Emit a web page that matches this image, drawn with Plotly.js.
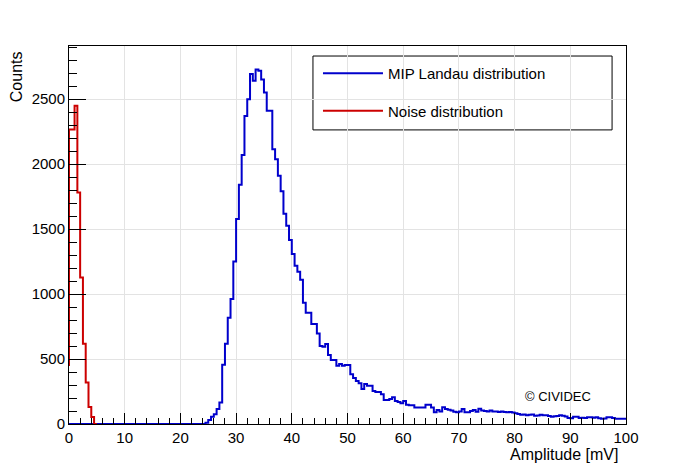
<!DOCTYPE html>
<html>
<head>
<meta charset="utf-8">
<script src="https://cdn.plot.ly/plotly-3.0.1.min.js"></script>
<style>
  html, body { margin: 0; padding: 0; background: #fff; }
  #chart { width: 696px; height: 472px; }
</style>
</head>
<body>
<div id="chart"></div>
<script>
// histogram binning (mV)
var binWidth = 0.5;
var blueStart = 0;
var noiseStart = -0.5;

// MIP Landau distribution, counts per 0.5 mV bin, 0 .. 100 mV
var blueCounts = [
    0, 0, 0, 0, 0, 0, 0, 0, 0, 0,                               // 0 - 4.5
    0, 0, 0, 0, 0, 0, 0, 0, 0, 0,                               // 5 - 9.5
    0, 0, 0, 0, 0, 0, 0, 0, 0, 0,                               // 10 - 14.5
    0, 0, 0, 0, 0, 0, 0, 0, 0, 0,                               // 15 - 19.5
    0, 0, 0, 0, 0, 0, 0, 0, 0, 10,                              // 20 - 24.5
    30, 55, 75, 115, 165, 456, 618, 818, 962, 1250,             // 25 - 29.5
    1578, 1840, 2069, 2370, 2498, 2692, 2641, 2728, 2718, 2651, // 30 - 34.5
    2551, 2410, 2410, 2113, 2036, 1910, 1790, 1618, 1525, 1415, // 35 - 39.5
    1308, 1218, 1172, 1110, 933, 856, 856, 769, 769, 697,       // 40 - 44.5
    600, 595, 615, 531, 492, 492, 449, 462, 449, 454,           // 45 - 49.5
    454, 382, 354, 331, 313, 269, 308, 295, 295, 254,           // 50 - 54.5
    246, 246, 228, 185, 185, 192, 205, 177, 169, 159,           // 55 - 59.5
    177, 149, 144, 144, 126, 126, 126, 126, 149, 149,           // 60 - 64.5
    126, 90, 108, 97, 128, 115, 110, 103, 95, 90,               // 65 - 69.5
    97, 115, 90, 90, 100, 108, 95, 118, 103, 100,               // 70 - 74.5
    97, 103, 97, 97, 92, 97, 92, 90, 92, 88,                    // 75 - 79.5
    82, 77, 72, 74, 67, 72, 74, 64, 66, 72,                     // 80 - 84.5
    67, 67, 62, 56, 60, 62, 67, 64, 58, 47,                     // 85 - 89.5
    44, 56, 56, 46, 48, 46, 52, 51, 49, 51,                     // 90 - 94.5
    44, 41, 43, 51, 51, 46, 41, 41, 41, 40                      // 95 - 99.5
];

// Noise distribution, counts per 0.5 mV bin, -0.5 .. 5 mV
var noiseCounts = [454, 2265, 2265, 2448, 1780, 1128, 618, 319, 131, 53, 0];

var legendNames = ['MIP Landau distribution', 'Noise distribution'];
var lineColors = ['#0000cc', '#cc0000'];

// step outline like ROOT's hist drawing
function histLine(start, counts) {
    var xs = [], ys = [];
    for (var i = 0; i < counts.length; i++) {
        xs.push(start + i * binWidth);
        ys.push(counts[i]);
    }
    xs.push(start + counts.length * binWidth);
    ys.push(counts[counts.length - 1]);
    return [xs, ys];
}

var blue = histLine(blueStart, blueCounts);
var red = histLine(noiseStart, noiseCounts);

var traceBlue = {
    name: legendNames[0],
    legendgroup: 'a',
    type: 'scatter',
    mode: 'lines',
    x: blue[0],
    y: blue[1],
    line: { color: lineColors[0], width: 2, shape: 'hv' },
    hoverinfo: 'skip'
};

var traceRed = {
    name: legendNames[1],
    legendgroup: 'b',
    type: 'scatter',
    mode: 'lines',
    x: red[0],
    y: red[1],
    line: { color: lineColors[1], width: 2, shape: 'hv' },
    hoverinfo: 'skip'
};

var font = 'Liberation Sans, Arial, Helvetica, sans-serif';

var layout = {
    width: 696,
    height: 472,
    margin: { l: 69, r: 70, t: 46, b: 48 },
    paper_bgcolor: '#ffffff',
    plot_bgcolor: '#ffffff',
    font: { family: font, size: 15, color: '#000' },
    showlegend: true,
    legend: {
        x: 0.447, y: 0.971,
        xanchor: 'left', yanchor: 'top',
        bgcolor: 'rgba(0,0,0,0)',
        borderwidth: 0,
        font: { family: font, size: 15, color: '#000' },
        traceorder: 'grouped',
        tracegroupgap: 15,
        itemwidth: 60
    },
    xaxis: {
        range: [0, 100],
        tick0: 0, dtick: 10,
        ticks: 'inside', ticklen: 11, tickwidth: 1, tickcolor: '#000',
        showline: true, linecolor: '#000', linewidth: 1, mirror: true,
        showgrid: true, gridcolor: '#e3e3e3', gridwidth: 1,
        zeroline: false,
        tickfont: { family: font, size: 15, color: '#000' },
        minor: { dtick: 2, ticks: 'inside', ticklen: 6, tickcolor: '#000', showgrid: false }
    },
    yaxis: {
        range: [0, 2908],
        tick0: 0, dtick: 500,
        ticks: 'inside', ticklen: 17, tickwidth: 1, tickcolor: '#000',
        showline: true, linecolor: '#000', linewidth: 1, mirror: true,
        showgrid: true, gridcolor: '#e3e3e3', gridwidth: 1,
        zeroline: false,
        tickfont: { family: font, size: 15, color: '#000' },
        minor: { dtick: 100, ticks: 'inside', ticklen: 8, tickcolor: '#000', showgrid: false }
    },
    shapes: [
        {   // legend frame
            type: 'rect', xref: 'paper', yref: 'paper',
            x0: 0.438, x1: 0.975, y0: 0.778, y1: 0.9735,
            line: { color: '#000', width: 1 },
            fillcolor: '#ffffff', layer: 'below'
        }
    ],
    annotations: [
        {
            text: 'Counts', textangle: -90,
            xref: 'paper', yref: 'paper', x: -0.093, y: 0.918,
            xanchor: 'center', yanchor: 'middle', showarrow: false,
            font: { family: font, size: 16, color: '#000' }
        },
        {
            text: 'Amplitude [mV]',
            xref: 'paper', yref: 'paper', x: 0.989, y: -0.082,
            xanchor: 'right', yanchor: 'middle', showarrow: false,
            font: { family: font, size: 16, color: '#000' }
        },
        {
            text: '© CIVIDEC',
            xref: 'paper', yref: 'paper', x: 0.8146, y: 0.074,
            xanchor: 'left', yanchor: 'middle', showarrow: false,
            font: { family: font, size: 13, color: '#000' }
        }
    ]
};

Plotly.newPlot('chart', [traceBlue, traceRed], layout, { staticPlot: true });
</script>
</body>
</html>
